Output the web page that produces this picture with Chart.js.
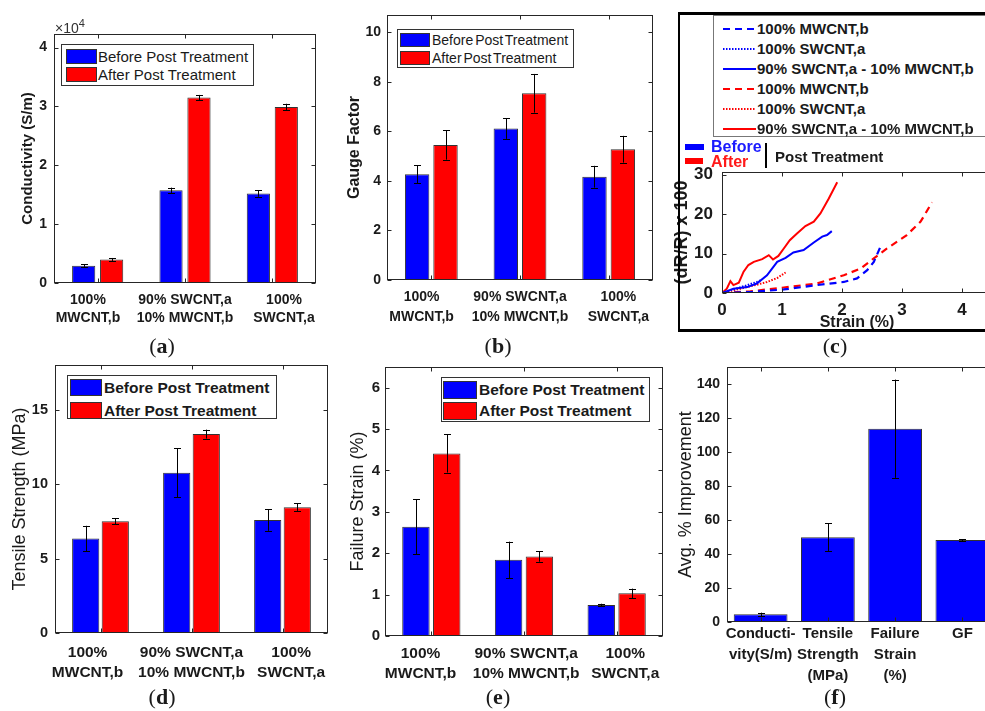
<!DOCTYPE html>
<html lang="en">
<head>
<meta charset="utf-8">
<title>Post treatment comparison</title>
<script src="https://cdn.jsdelivr.net/npm/chart.js@4.4.1/dist/chart.umd.min.js"></script>
<style>
  html, body { margin: 0; padding: 0; background: #ffffff; }
  #figure { position: relative; width: 985px; height: 711px; overflow: hidden; font-family: "Liberation Sans", Arial, sans-serif; color: #1a1a1a; }
  #figure canvas { position: absolute; }
  .panel-label { position: absolute; width: 60px; margin-left: -30px; text-align: center; font-family: "Liberation Serif", "Times New Roman", serif; font-size: 22px; line-height: 24px; }
  .legend { position: absolute; box-sizing: border-box; border: 1px solid #333; background: #fff; z-index: 2; }
  .patch { position: absolute; box-sizing: border-box; border: 1px solid #333; }
  .legend-text { position: absolute; white-space: nowrap; }
  .overlay { position: absolute; white-space: nowrap; z-index: 2; }
</style>
</head>
<body>
<div id="figure">
  <canvas id="chart-a"></canvas>
  <canvas id="chart-b"></canvas>
  <canvas id="chart-c"></canvas>
  <canvas id="chart-d"></canvas>
  <canvas id="chart-e"></canvas>
  <canvas id="chart-f"></canvas>

  <div class="overlay" style="left:55px; top:20px; font-size:14px; line-height:16px; color:#333;">&times;10<span style="position:relative; top:-6px; font-size:11px;">4</span></div>

  <!-- panel (c) frame and legends -->
  <div class="overlay" style="left:678px; top:12px; width:400px; height:320px; box-sizing:border-box; border-left:2px solid #000; border-top:3px solid #000; border-bottom:3px solid #000; z-index:1;"></div>
  <div id="legend-c" class="overlay" style="left:713px; top:15px; width:400px; height:122px; box-sizing:border-box; border:1px solid #777; background:#fff;"></div>
  <div class="overlay" style="left:685px; top:144px; width:19px; height:6px; background:#0000ff;"></div>
  <div class="overlay" style="left:685px; top:158px; width:18px; height:6px; background:#ff0000;"></div>
  <div class="overlay" style="left:711px; top:137px; font-size:16px; line-height:20px; font-weight:bold; color:#1a1aff;">Before</div>
  <div class="overlay" style="left:711px; top:152px; font-size:16px; line-height:20px; font-weight:bold; color:#ff1a1a;">After</div>
  <div class="overlay" style="left:765px; top:143px; width:2px; height:25px; background:#000;"></div>
  <div class="overlay" style="left:775px; top:147px; font-size:15px; line-height:20px; font-weight:bold;">Post Treatment</div>

  <div class="panel-label" style="left:162px; top:334px;">(<b>a</b>)</div>
  <div class="panel-label" style="left:498px; top:334px;">(<b>b</b>)</div>
  <div class="panel-label" style="left:835px; top:334px;">(<b>c</b>)</div>
  <div class="panel-label" style="left:162px; top:685px;">(<b>d</b>)</div>
  <div class="panel-label" style="left:498px; top:685px;">(<b>e</b>)</div>
  <div class="panel-label" style="left:835px; top:685px;">(<b>f</b>)</div>
</div>

<script>
const seriesNames = ["Before Post Treatment", "After Post Treatment"];
const mixLabels = [["100%", "MWCNT,b"], ["90% SWCNT,a", "10% MWCNT,b"], ["100%", "SWCNT,a"]];

// (a) conductivity, S/m (axis shows x10^4)
const condBefore = [2950, 15750, 15200];
const condBeforeErr = [200, 450, 550];
const condAfter = [4000, 31500, 29900];
const condAfterErr = [250, 450, 550];
const condTicks = [0, 10000, 20000, 30000, 40000];

// (b) gauge factor
const gaugeBefore = [4.27, 6.12, 4.17];
const gaugeBeforeErr = [0.36, 0.42, 0.44];
const gaugeAfter = [5.45, 7.54, 5.28];
const gaugeAfterErr = [0.59, 0.78, 0.54];
const gaugeTicks = [0, 2, 4, 6, 8, 10];

// (d) tensile strength, MPa
const tensileBefore = [6.35, 10.77, 7.59];
const tensileBeforeErr = [0.85, 1.65, 0.73];
const tensileAfter = [7.5, 13.36, 8.45];
const tensileAfterErr = [0.2, 0.3, 0.25];
const tensileTicks = [0, 5, 10, 15];

// (e) failure strain, %
const failBefore = [2.64, 1.84, 0.75];
const failBeforeErr = [0.67, 0.44, 0.03];
const failAfter = [4.41, 1.92, 1.03];
const failAfterErr = [0.46, 0.125, 0.115];
const failTicks = [0, 1, 2, 3, 4, 5, 6];

// (f) average improvement, %
const improveLabels = [["Conducti-", "vity(S/m)"], ["Tensile", "Strength", "(MPa)"], ["Failure", "Strain", "(%)"], ["GF"]];
const improveMean = [4.5, 49.8, 113.7, 48.2];
const improveErr = [1.0, 8.3, 28.9, 0.6];
const improveTicks = [0, 20, 40, 60, 80, 100, 120, 140];

// (c) resistance change vs strain
const mwBeforeStrain = [0, 0.47, 1.03, 1.58, 2.03, 2.25, 2.42, 2.53, 2.64];
const mwBeforeDr = [0, 0.25, 0.9, 2.0, 2.8, 3.7, 5.8, 7.9, 11.7];
const swBeforeStrain = [0, 0.19, 0.42, 0.58, 0.64];
const swBeforeDr = [0, 0.9, 2.0, 2.8, 3.2];
const mixBeforeStrain = [0, 0.19, 0.42, 0.58, 0.75, 0.92, 1.06, 1.19, 1.36, 1.53, 1.67, 1.75, 1.83];
const mixBeforeDr = [0, 1.1, 1.5, 2.4, 4.5, 7.9, 8.9, 10.3, 10.9, 12.8, 14.3, 14.7, 15.7];
const mwAfterStrain = [0, 0.47, 1.03, 1.58, 2.03, 2.31, 2.53, 2.75, 3.08, 3.31, 3.5];
const mwAfterDr = [0, 0.4, 1.4, 2.4, 4.5, 6.2, 8.8, 11.3, 14.7, 18.1, 23.0];
const swAfterStrain = [0, 0.31, 0.58, 0.75, 0.92, 1.06];
const swAfterDr = [0, 1.1, 2.1, 2.8, 3.8, 5.2];
const mixAfterStrain = [0, 0.08, 0.14, 0.19, 0.28, 0.36, 0.44, 0.53, 0.67, 0.78, 0.85, 0.94, 1.03, 1.13, 1.25, 1.39, 1.53, 1.64, 1.78, 1.92];
const mixAfterDr = [0, 1.1, 3.0, 2.0, 2.6, 5.4, 7.1, 7.9, 8.6, 9.6, 8.5, 9.4, 11.3, 13.4, 15.1, 17.0, 18.1, 20.2, 24.0, 28.1];
const strainTicks = [0, 1, 2, 3, 4];
const drTicks = [0, 10, 20, 30];

const BLUE = "#0000ff";
const RED = "#ff0000";
const EDGE = "#333333";
const AXIS = "#262626";
const INK = "#1a1a1a";
const PAD = 10;
const FONT = "'Liberation Sans', Arial, sans-serif";

Chart.defaults.font.family = FONT;
Chart.defaults.color = INK;

// plot-area rectangles in page pixels, plus axis band sizes
const boxA = { l: 54, t: 34, r: 316, b: 283, yW: 35, xH: 50, cp: 0.64, bp: 0.83 };
const boxB = { l: 387, t: 15, r: 653, b: 280, yW: 42, xH: 50, cp: 0.64, bp: 0.86 };
const boxC = { l: 722, t: 172, r: 992, b: 293, yW: 51, xH: 39 };
const boxD = { l: 55, t: 365, r: 328, b: 633, yW: 46, xH: 60, cp: 0.65, bp: 0.92 };
const boxE = { l: 385, t: 367, r: 663, b: 636, yW: 38, xH: 60, cp: 0.665, bp: 0.89 };
const boxF = { l: 727, t: 367, r: 996, b: 622, yW: 52, xH: 70, cp: 1, bp: 0.8 };

// MATLAB placed the outer labels a little off the group centres
function shiftLabels(labels, shifts) {
  return labels.map((lines, i) => {
    const pad = " ".repeat(Math.abs(shifts[i]));
    return lines.map((s) => (shifts[i] < 0 ? s + pad : pad + s));
  });
}

function fixedTicks(values) {
  return (scale) => {
    scale.ticks = values.map((value) => ({ value }));
  };
}

const errorBarPlugin = {
  id: "errorBars",
  afterDatasetsDraw(chart) {
    const { ctx } = chart;
    const yScale = chart.scales.y;
    ctx.save();
    ctx.strokeStyle = "#000";
    ctx.lineWidth = 1;
    chart.data.datasets.forEach((ds, i) => {
      if (!ds.errors) {
        return;
      }
      chart.getDatasetMeta(i).data.forEach((bar, j) => {
        const hi = yScale.getPixelForValue(ds.data[j] + ds.errors[j]);
        const lo = yScale.getPixelForValue(ds.data[j] - ds.errors[j]);
        const x = Math.round(bar.x) + 0.5;
        ctx.beginPath();
        ctx.moveTo(x, hi);
        ctx.lineTo(x, lo);
        ctx.moveTo(x - 3.5, Math.round(hi) + 0.5);
        ctx.lineTo(x + 3.5, Math.round(hi) + 0.5);
        ctx.moveTo(x - 3.5, Math.round(lo) + 0.5);
        ctx.lineTo(x + 3.5, Math.round(lo) + 0.5);
        ctx.stroke();
      });
    });
    ctx.restore();
  }
};

const framePlugin = {
  id: "frame",
  afterDatasetsDraw(chart) {
    const { ctx, chartArea: a, scales } = chart;
    const len = 4;
    const L = Math.round(a.left) + 0.5;
    const R = Math.round(a.right) - 0.5;
    const T = Math.round(a.top) + 0.5;
    const B = Math.round(a.bottom) - 0.5;
    ctx.save();
    ctx.strokeStyle = AXIS;
    ctx.lineWidth = 1;
    ctx.strokeRect(L, T, R - L, B - T);
    ctx.beginPath();
    scales.y.ticks.forEach((t, i) => {
      const y = Math.round(scales.y.getPixelForTick(i)) + 0.5;
      ctx.moveTo(L, y);
      ctx.lineTo(L + len, y);
      ctx.moveTo(R, y);
      ctx.lineTo(R - len, y);
    });
    scales.x.ticks.forEach((t, i) => {
      const x = Math.round(scales.x.getPixelForTick(i)) + 0.5;
      ctx.moveTo(x, B);
      ctx.lineTo(x, B - len);
      ctx.moveTo(x, T);
      ctx.lineTo(x, T + len);
    });
    ctx.stroke();
    ctx.restore();
  }
};

function placeCanvas(id, box) {
  const canvas = document.getElementById(id);
  const w = box.yW + (box.r - box.l) + PAD;
  const h = PAD + (box.b - box.t) + box.xH;
  canvas.width = w;
  canvas.height = h;
  canvas.style.width = w + "px";
  canvas.style.height = h + "px";
  canvas.style.left = (box.l - box.yW) + "px";
  canvas.style.top = (box.t - PAD) + "px";
  return canvas;
}

function yAxis(box, setup) {
  const ticks = {
    color: INK,
    padding: setup.yPad,
    font: setup.yFont
  };
  if (setup.yFormat) {
    ticks.callback = setup.yFormat;
  }
  return {
    min: 0,
    max: setup.yMax,
    grid: { display: false, drawTicks: false },
    border: { display: false },
    ticks,
    afterBuildTicks: fixedTicks(setup.yTicks),
    title: { display: true, text: setup.yTitle, color: INK, font: setup.titleFont, padding: { top: 0, bottom: 0 } },
    afterFit(s) {
      s.width = box.yW;
      s.paddingTop = 0;
      s.paddingBottom = 0;
    }
  };
}

function barPanel(id, box, setup) {
  const canvas = placeCanvas(id, box);
  return new Chart(canvas, {
    type: "bar",
    data: {
      labels: setup.labels,
      datasets: setup.series.map((s) => ({
        label: s.label,
        data: s.values,
        errors: s.errors,
        backgroundColor: s.color,
        borderColor: EDGE,
        borderWidth: 1,
        borderSkipped: false,
        categoryPercentage: box.cp,
        barPercentage: box.bp
      }))
    },
    options: {
      responsive: false,
      animation: false,
      events: [],
      layout: { padding: { top: PAD, right: PAD, left: 0, bottom: 0 } },
      plugins: { legend: { display: false }, tooltip: { enabled: false } },
      scales: {
        x: {
          grid: { display: false, drawTicks: false },
          border: { display: false },
          ticks: { color: INK, autoSkip: false, maxRotation: 0, padding: setup.xPad, font: setup.xFont },
          afterFit(s) {
            s.height = box.xH;
            s.paddingLeft = 0;
            s.paddingRight = 0;
          }
        },
        y: yAxis(box, setup)
      }
    },
    plugins: [errorBarPlugin, framePlugin]
  });
}

function twoSeries(before, beforeErr, after, afterErr) {
  return [
    { label: seriesNames[0], values: before, errors: beforeErr, color: BLUE },
    { label: seriesNames[1], values: after, errors: afterErr, color: RED }
  ];
}

barPanel("chart-a", boxA, {
  labels: shiftLabels(mixLabels, [-5, 0, 6]),
  series: twoSeries(condBefore, condBeforeErr, condAfter, condAfterErr),
  yMax: 42300, yTicks: condTicks, yFormat: (v) => v / 10000,
  yTitle: "Conductivity (S/m)",
  titleFont: { size: 15, weight: "bold", lineHeight: 1.2 },
  yFont: { size: 14, weight: "bold" }, yPad: 7,
  xFont: { size: 14, weight: "bold", lineHeight: 1.286 }, xPad: 8
});

barPanel("chart-b", boxB, {
  labels: shiftLabels(mixLabels, [-5, 0, 5]),
  series: twoSeries(gaugeBefore, gaugeBeforeErr, gaugeAfter, gaugeAfterErr),
  yMax: 10.7, yTicks: gaugeTicks,
  yTitle: "Gauge Factor",
  titleFont: { size: 16, weight: "bold", lineHeight: 1.2 },
  yFont: { size: 14, weight: "bold" }, yPad: 6,
  xFont: { size: 14, weight: "bold", lineHeight: 1.43 }, xPad: 7.5
});

barPanel("chart-d", boxD, {
  labels: shiftLabels(mixLabels, [-6, 0, 4]),
  series: twoSeries(tensileBefore, tensileBeforeErr, tensileAfter, tensileAfterErr),
  yMax: 18, yTicks: tensileTicks,
  yTitle: "Tensile Strength (MPa)",
  titleFont: { size: 18, weight: "normal", lineHeight: 1.2 },
  yFont: { size: 14.5, weight: "bold" }, yPad: 7,
  xFont: { size: 15.5, weight: "bold", lineHeight: 1.29 }, xPad: 10
});

barPanel("chart-e", boxE, {
  labels: shiftLabels(mixLabels, [-5, 1, 4]),
  series: twoSeries(failBefore, failBeforeErr, failAfter, failAfterErr),
  yMax: 6.5, yTicks: failTicks,
  yTitle: "Failure Strain (%)",
  titleFont: { size: 18, weight: "normal", lineHeight: 1.2 },
  yFont: { size: 15, weight: "bold" }, yPad: 5,
  xFont: { size: 15.5, weight: "bold", lineHeight: 1.29 }, xPad: 7.3
});

barPanel("chart-f", boxF, {
  labels: improveLabels,
  series: [{ label: "Avg. % Improvement", values: improveMean, errors: improveErr, color: BLUE }],
  yMax: 150, yTicks: improveTicks,
  yTitle: "Avg. % Improvement",
  titleFont: { size: 18, weight: "normal", lineHeight: 1.2 },
  yFont: { size: 14, weight: "bold" }, yPad: 7,
  xFont: { size: 15, weight: "bold", lineHeight: 1.4 }, xPad: 1.1
});

// (c) strain curves
const DASHED = [7, 5];
const DOTTED = [1.5, 1.5];
const curves = [
  { label: "100% MWCNT,b", xs: mwBeforeStrain, ys: mwBeforeDr, color: BLUE, dash: DASHED, width: 2.2 },
  { label: "100% SWCNT,a", xs: swBeforeStrain, ys: swBeforeDr, color: BLUE, dash: DOTTED, width: 2 },
  { label: "90% SWCNT,a - 10% MWCNT,b", xs: mixBeforeStrain, ys: mixBeforeDr, color: BLUE, dash: [], width: 2 },
  { label: "100% MWCNT,b", xs: mwAfterStrain, ys: mwAfterDr, color: RED, dash: DASHED, width: 2.2 },
  { label: "100% SWCNT,a", xs: swAfterStrain, ys: swAfterDr, color: RED, dash: DOTTED, width: 2 },
  { label: "90% SWCNT,a - 10% MWCNT,b", xs: mixAfterStrain, ys: mixAfterDr, color: RED, dash: [], width: 2 }
];

const canvasC = placeCanvas("chart-c", boxC);
new Chart(canvasC, {
  type: "scatter",
  data: {
    datasets: curves.map((c) => ({
      label: c.label,
      data: c.xs.map((x, i) => ({ x, y: c.ys[i] })),
      showLine: true,
      borderColor: c.color,
      borderDash: c.dash,
      borderWidth: c.width,
      pointRadius: 0,
      tension: 0,
      fill: false
    }))
  },
  options: {
    responsive: false,
    animation: false,
    events: [],
    layout: { padding: { top: PAD, right: PAD, left: 0, bottom: 0 } },
    plugins: { legend: { display: false }, tooltip: { enabled: false } },
    scales: {
      x: {
        type: "linear",
        min: 0,
        max: 4.5,
        grid: { display: false, drawTicks: false },
        border: { display: false },
        ticks: { color: INK, padding: 6.8, font: { size: 17, weight: "bold" } },
        afterBuildTicks: fixedTicks(strainTicks),
        title: { display: true, text: "Strain (%)", color: INK, font: { size: 16, weight: "bold", lineHeight: 1.2 }, padding: { top: 0, bottom: 0 } },
        afterFit(s) {
          s.height = boxC.xH;
          s.paddingLeft = 0;
          s.paddingRight = 0;
        }
      },
      y: yAxis(boxC, {
        yMax: 30.7, yTicks: drTicks, yPad: 9,
        yFont: { size: 17, weight: "bold" },
        yTitle: "(dR/R) x 100",
        titleFont: { size: 18, weight: "bold", lineHeight: 1.2 }
      })
    }
  },
  plugins: [framePlugin]
});

// HTML legends
function addLegend(spec) {
  const fig = document.getElementById("figure");
  const box = document.createElement("div");
  box.className = "legend";
  Object.assign(box.style, { left: spec.l + "px", top: spec.t + "px", width: spec.w + "px", height: spec.h + "px" });
  spec.items.forEach((item, i) => {
    const top = spec.py + i * spec.step;
    const patch = document.createElement("div");
    patch.className = "patch";
    Object.assign(patch.style, { left: spec.px + "px", top: top + "px", width: spec.pw + "px", height: spec.ph + "px", background: item.color });
    const text = document.createElement("div");
    text.className = "legend-text";
    text.textContent = item.label;
    Object.assign(text.style, {
      left: spec.tx + "px", top: top + "px", lineHeight: spec.ph + "px",
      fontSize: spec.size + "px", fontWeight: spec.weight, wordSpacing: spec.wordSpacing || "normal"
    });
    box.appendChild(patch);
    box.appendChild(text);
  });
  fig.appendChild(box);
}

const legendItems = [{ label: seriesNames[0], color: BLUE }, { label: seriesNames[1], color: RED }];
addLegend({ l: 61, t: 44, w: 193, h: 42, px: 4, py: 4, pw: 31, ph: 15, step: 18, tx: 36, size: 15, weight: "normal", items: legendItems });
addLegend({ l: 397, t: 29, w: 177, h: 39, px: 2, py: 3, pw: 30, ph: 14, step: 18, tx: 34, size: 14, weight: "normal", wordSpacing: "-2px", items: legendItems });
addLegend({ l: 67, t: 375, w: 210, h: 44, px: 2, py: 3, pw: 32, ph: 17, step: 23, tx: 36, size: 15.5, weight: "bold", items: legendItems });
addLegend({ l: 441, t: 377, w: 209, h: 45, px: 1, py: 3, pw: 34, ph: 18, step: 21, tx: 37, size: 15.5, weight: "bold", items: legendItems });

// legend of panel (c): line samples drawn with svg
const legendC = document.getElementById("legend-c");
curves.forEach((c, i) => {
  const cy = 13 + i * 19.9;
  const svg = document.createElementNS("http://www.w3.org/2000/svg", "svg");
  svg.setAttribute("width", "36");
  svg.setAttribute("height", "8");
  Object.assign(svg.style, { position: "absolute", left: "9px", top: (cy - 4) + "px" });
  const line = document.createElementNS("http://www.w3.org/2000/svg", "line");
  line.setAttribute("x1", "0");
  line.setAttribute("x2", "33");
  line.setAttribute("y1", "4");
  line.setAttribute("y2", "4");
  line.setAttribute("stroke", c.color);
  line.setAttribute("stroke-width", c.width);
  if (c.dash.length) {
    line.setAttribute("stroke-dasharray", c.dash.join(" "));
  }
  svg.appendChild(line);
  legendC.appendChild(svg);
  const text = document.createElement("div");
  text.className = "legend-text";
  text.textContent = c.label;
  Object.assign(text.style, { left: "43px", top: (cy - 10) + "px", lineHeight: "20px", fontSize: "15px", fontWeight: "bold" });
  legendC.appendChild(text);
});
</script>
</body>
</html>
